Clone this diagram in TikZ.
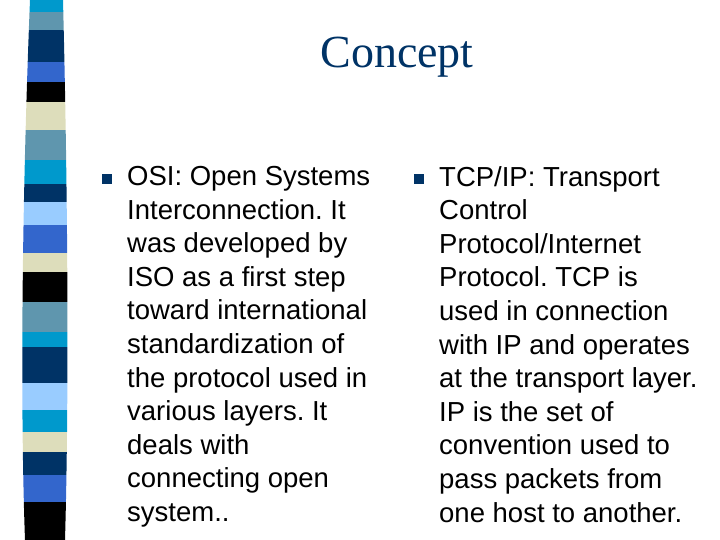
\documentclass[tikz,border=0pt]{standalone}
\usepackage{fontspec}
\setmainfont{Liberation Serif}
\newfontfamily\bodyfont{Liberation Sans}
\frenchspacing
\definecolor{cyanband}{HTML}{0099CC}
\definecolor{steelband}{HTML}{5F96AE}
\definecolor{navyband}{HTML}{003366}
\definecolor{royalband}{HTML}{3366CC}
\definecolor{beigeband}{HTML}{DDDDBB}
\definecolor{lightband}{HTML}{99CCFF}
\tikzset{
  bullettext/.style={anchor=north west, align=left, inner sep=0pt,
    font=\bodyfont\fontsize{27.5}{33.6}\selectfont},
  bulletmark/.style={fill=navyband, minimum size=10pt, inner sep=0pt}
}
\begin{document}
\begin{tikzpicture}[x=1pt, y=-1pt]
  \useasboundingbox (0,0) rectangle (720,540);
  % striped strip on the left
  \begin{scope}
    \clip (30,0) .. controls (22,200) and (20,400) .. (25,540) -- (65,540)
      .. controls (69,400) and (68,200) .. (63,0) -- cycle;
    \foreach \ya/\yb/\col in {0/12/cyanband, 12/30/steelband, 30/62/navyband,
        62/82/royalband, 82/102/black, 102/130/beigeband, 130/160/steelband,
        160/184/cyanband, 184/202/navyband, 202/225/lightband, 225/253/royalband,
        253/272/beigeband, 272/302/black, 302/332/steelband, 332/347/cyanband,
        347/383/navyband, 383/410/lightband, 410/432/cyanband, 432/452/beigeband,
        452/475/navyband, 475/502/royalband, 502/540/black}
      \fill[\col] (15,\ya) rectangle (75,\yb);
  \end{scope}
  % title
  \node[text=navyband, font=\fontsize{46}{50}\selectfont] (title) at (397,57) {Concept};
  % left column
  \node[bulletmark] (b1) at (107,179) {};
  \node[bullettext] (osi) at (127,166) {OSI: Open Systems\\Interconnection. It\\was developed by\\ISO as a first step\\toward international\\standardization of\\the protocol used in\\various layers. It\\deals with\\connecting open\\system..};
  % right column
  \node[bulletmark] (b2) at (419,179) {};
  \node[bullettext] (tcp) at (439,166) {TCP/IP: Transport\\Control\\Protocol/Internet\\Protocol. TCP is\\used in connection\\with IP and operates\\at the transport layer.\\IP is the set of\\convention used to\\pass packets from\\one host to another.};
\end{tikzpicture}
\end{document}
